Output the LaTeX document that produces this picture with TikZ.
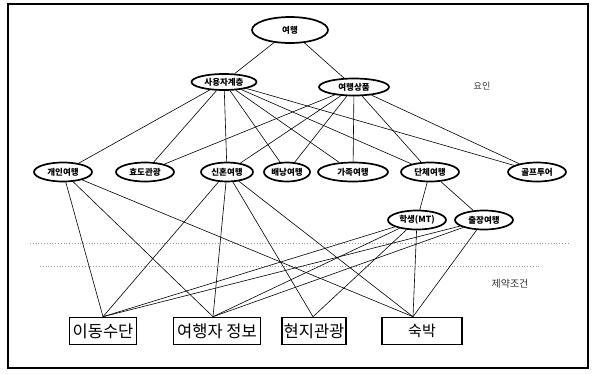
\documentclass[tikz,border=0pt]{standalone}
\usepackage{fontspec}
\newfontfamily\kr{Noto Sans CJK KR}
\usetikzlibrary{shapes.geometric,calc}
\begin{document}
\begin{tikzpicture}[x=1pt,y=-1pt,
 ell/.style={ellipse,draw,line width=1.7pt,inner sep=0pt,minimum width=58pt,minimum height=19pt,font=\kr\bfseries\fontsize{8.5}{9}\selectfont},
 box/.style={draw,line width=1.6pt,inner sep=0pt,minimum height=27pt,font=\kr\fontsize{16.5}{17}\selectfont},
 ln/.style={line width=0.6pt},
 dotline/.style={gray!80,dotted,line width=0.8pt},
 lbl/.style={font=\kr\fontsize{9}{10}\selectfont,text=black!80}]
\useasboundingbox (0,0) rectangle (594,373);
\draw[line width=1.3pt] (8,4) rectangle (588,368);
% dotted lines
\coordinate (d1a) at (30,243); \coordinate (d1b) at (570,243);
\coordinate (d2a) at (40,266); \coordinate (d2b) at (540,266);
\draw[dotline] (d1a) -- (d1b);
\draw[dotline] (d2a) -- (d2b);
% nodes
\node[ell,minimum width=76pt,minimum height=26pt] (top) at (290,30) {여행};
\node[ell,minimum width=65pt,minimum height=16pt] (u) at (224,82) {사용자계층};
\node[ell,minimum width=70pt,minimum height=17pt] (p) at (354,87) {여행상품};
\node[ell] (a1) at (63,172) {개인여행};
\node[ell] (a2) at (145,172) {효도관광};
\node[ell,minimum width=52pt] (a3) at (227,172) {신혼여행};
\node[ell,minimum width=46pt] (a4) at (287,172) {배낭여행};
\node[ell,minimum width=70pt] (a5) at (353,172) {가족여행};
\node[ell] (a6) at (430,172) {단체여행};
\node[ell] (a7) at (537,172) {골프투어};
\node[ell] (s1) at (417,220) {학생(MT)};
\node[ell] (s2) at (484,220) {출장여행};
\node[box,minimum width=67pt] (b1) at (103,331) {이동수단};
\node[box,minimum width=87pt] (b2) at (217,331) {여행자 정보};
\node[box,minimum width=64pt] (b3) at (314,331) {현지관광};
\node[box,minimum width=80pt,font=\kr\fontsize{15}{16}\selectfont] (b4) at (422,331) {숙박};
\node[lbl] (f1) at (482,86) {요인};
\node[lbl,font=\kr\fontsize{10}{11}\selectfont] (f2) at (510,284) {제약조건};
% convergence points
\coordinate (t1) at ($(b1.north)+(0,0)$);
\coordinate (t2) at ($(b2.north)+(-4,0)$);
\coordinate (t3) at ($(b3.north)+(-1,0)$);
\coordinate (t4) at ($(b4.north)+(-9,0)$);
% edges
\draw[ln] (top) -- (u);
\draw[ln] (top) -- (p);
\foreach \n in {a1,a2,a3,a4,a5,a6,a7} \draw[ln] (u) -- (\n);
\foreach \n in {a2,a3,a4,a5,a6,a7} \draw[ln] (p) -- (\n);
\draw[ln] (a6) -- (s1);
\draw[ln] (a6) -- (s2);
\foreach \t in {t1,t2,t4} \draw[ln] (a1) -- (\t);
\foreach \t in {t1,t2,t3,t4} \draw[ln] (a3) -- (\t);
\foreach \t in {t1,t2,t3,t4} \draw[ln] (s1) -- (\t);
\foreach \t in {t1,t2,t4} \draw[ln] (s2) -- (\t);
\end{tikzpicture}
\end{document}
